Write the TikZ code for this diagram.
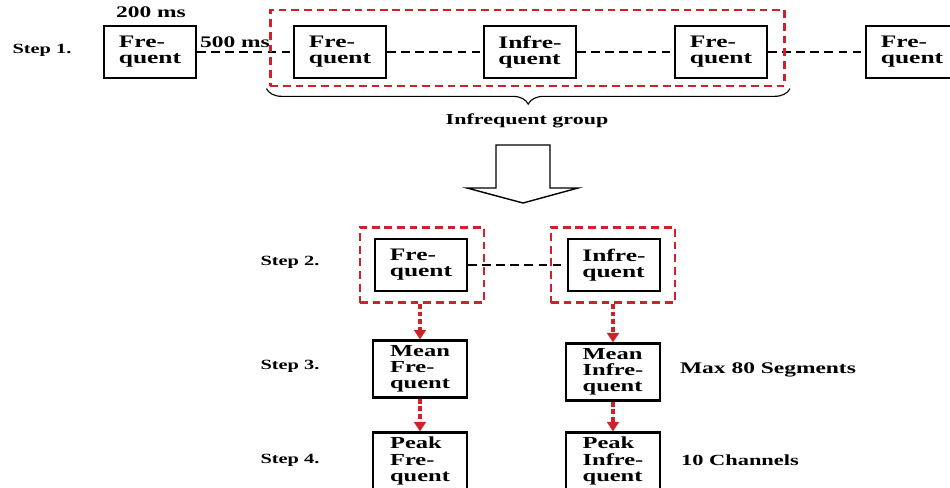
\documentclass[tikz,border=0pt]{standalone}
\usepackage{fontspec}
\setmainfont[FakeStretch=1.45]{Liberation Serif}
\usepackage{xcolor}
\usetikzlibrary{arrows.meta,positioning,decorations.pathreplacing}
\definecolor{grpred}{RGB}{204,34,41}

\begin{document}
\begin{tikzpicture}[x=0.025cm, y=-0.025cm,
    box/.style={rectangle, draw, line width=1.7pt, align=left, minimum width=2.3cm, minimum height=1.3cm, inner sep=2pt, font=\bfseries\fontsize{12.5}{11.5}\selectfont},
    tallbox/.style={box, minimum width=2.35cm, minimum height=1.42cm, font=\bfseries\fontsize{12}{11.5}\selectfont},
    group/.style={draw=grpred, line width=1.7pt, dash pattern=on 5.5pt off 3.5pt},
    grpbox/.style={group, rectangle, minimum width=3.1cm, minimum height=1.88cm},
    link/.style={line width=1.3pt, dash pattern=on 6pt off 4pt},
    flow/.style={-{Triangle[length=2.4mm,width=3mm]}, draw=grpred, fill=grpred, line width=2.2pt, dash pattern=on 3.5pt off 2pt},
    lbl/.style={font=\bfseries\fontsize{10}{12}\selectfont},
    note/.style={font=\bfseries\fontsize{11.5}{13}\selectfont}
]
\useasboundingbox (0,0) rectangle (950,488);

% step 1
\node[lbl] (s1) at (42,50) {Step 1.};
\node[box] (f1) at (150,52) {Fre-\\quent};
\node[box] (f2) at (340,52) {Fre-\\quent};
\node[box] (i1) at (530,52) {Infre-\\quent};
\node[box] (f3) at (721,52) {Fre-\\quent};
\node[box] (f4) at (912,52) {Fre-\\quent};
\node[note] (t1) at (151,12) {200 ms};
\node[note] (t2) at (235,42) {500 ms};
\draw[link] (f1) -- (f2);
\draw[link] (f2) -- (i1);
\draw[link] (i1) -- (f3);
\draw[link] (f3) -- (f4);
\node[group, rectangle, minimum width=12.85cm, minimum height=1.9cm] (grp) at (527.5,48) {};
\draw[line width=0.8pt, decorate, decoration={brace, mirror, amplitude=11pt}]
    ([xshift=-2pt,yshift=-1pt]grp.south west) -- ([xshift=3pt,yshift=-1pt]grp.south east);
\node[lbl, font=\bfseries\fontsize{10.8}{12}\selectfont] (gname) at (527,121) {Infrequent group};

% big arrow
\draw[line width=1pt, fill=white] (496,145) -- (550,145) -- (550,188) -- (578,188)
    -- (523,203) -- (467,188) -- (496,188) -- cycle;

% step 2
\node[lbl] (s2) at (290,262) {Step 2.};
\node[box] (f5) at (421,265) {Fre-\\quent};
\node[box] (i2) at (614,265) {Infre-\\quent};
\draw[link] (f5) -- (i2);
\node[grpbox] (gF) at (422,265) {};
\node[grpbox] (gI) at (613,265) {};

% step 3
\node[lbl] (s3) at (290,366) {Step 3.};
\node[tallbox] (mf) at (420,369) {Mean\\Fre-\\quent};
\node[tallbox] (mi) at (613,372) {Mean\\Infre-\\quent};
\node[note] (seg) at (768,370) {Max 80 Segments};

% step 4
\node[lbl] (s4) at (290,460) {Step 4.};
\node[tallbox] (pf) at (420,461) {Peak\\Fre-\\quent};
\node[tallbox] (pi) at (613,461) {Peak\\Infre-\\quent};
\node[note, font=\bfseries\fontsize{11}{13}\selectfont] (ch) at (740,460) {10 Channels};

\draw[flow] (gF.south -| mf.north) -- (mf.north);
\draw[flow] (gI.south -| mi.north) -- (mi.north);
\draw[flow] (mf) -- (pf);
\draw[flow] (mi) -- (pi);
\end{tikzpicture}
\end{document}
